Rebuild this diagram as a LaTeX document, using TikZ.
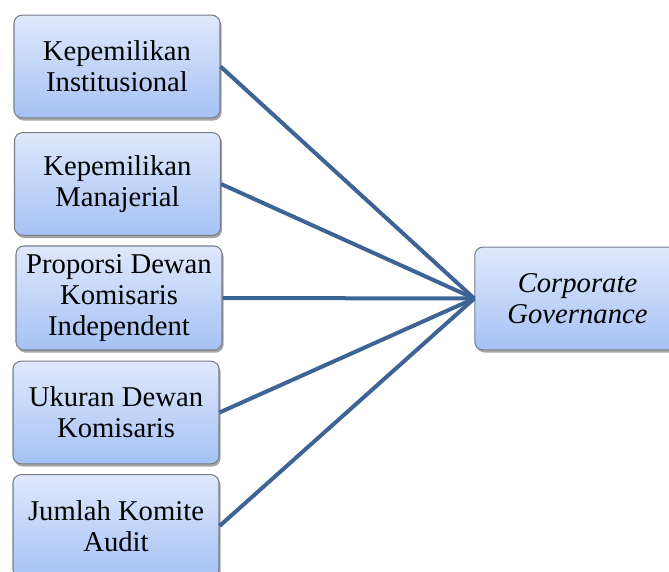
\documentclass[tikz,border=0pt]{standalone}
\usepackage{fontspec}
\setmainfont{Liberation Serif}
\usetikzlibrary{shadows}
\definecolor{boxtop}{RGB}{223,232,252}
\definecolor{boxbot}{RGB}{165,194,245}
\definecolor{boxline}{RGB}{120,125,135}
\definecolor{conn}{RGB}{62,100,150}
\begin{document}
\begin{tikzpicture}[x=0.75pt,y=-0.75pt,
  box/.style={rectangle, rounded corners=6pt, draw=boxline, line width=0.8pt,
    top color=boxtop, bottom color=boxbot, align=center, inner sep=0pt,
    minimum width=154.5pt, minimum height=77pt,
    font=\fontsize{21.5}{23.5}\selectfont,
    drop shadow={shadow xshift=1.2pt, shadow yshift=-2pt, fill=black, opacity=0.35}},
  conn/.style={draw=conn, line width=3pt}]
\useasboundingbox (0,0) rectangle (669,572);
\node[box] (a) at (117,66.5) {Kepemilikan\\Institusional};
\node[box] (b) at (117.5,184) {Kepemilikan\\Manajerial};
\node[box, minimum height=78pt] (c) at (119,298) {Proporsi Dewan\\Komisaris\\Independent};
\node[box] (d) at (116,412.5) {Ukuran Dewan\\Komisaris};
\node[box] (e) at (116,526) {Jumlah Komite\\Audit};
\node[box, minimum width=154pt] (g) at (577.5,298.5) {\itshape Corporate\\\itshape Governance};
\foreach \n in {a,b,c,d,e}
  \draw[conn] (\n.east) -- (g.west);
\end{tikzpicture}
\end{document}
